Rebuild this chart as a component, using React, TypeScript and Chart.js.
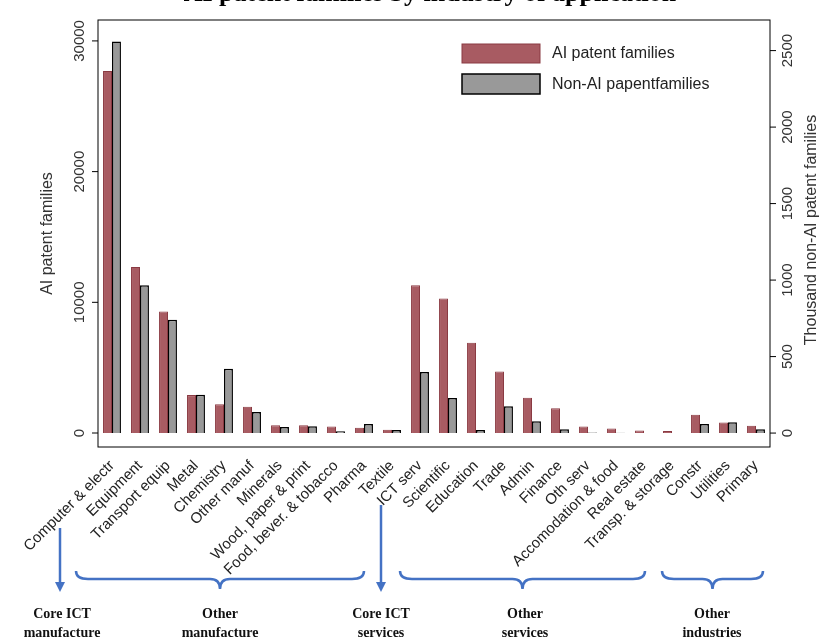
import React, { useEffect, useRef } from "react";
import { Chart, registerables } from "chart.js";
Chart.register(...registerables);

const categories = ["Computer & electr","Equipment","Transport equip","Metal","Chemistry","Other manuf","Minerals","Wood, paper & print","Food, bever. & tobacco","Pharma","Textile","ICT serv","Scientific","Education","Trade","Admin","Finance","Oth serv","Accomodation & food","Real estate","Transp. & storage","Constr","Utilities","Primary"];
const aiFamilies = [27700,12700,9300,2900,2200,2000,600,600,500,400,250,11300,10300,6900,4700,2700,1900,500,350,200,150,1400,800,550];
const nonAiFamilies = [2560,967,740,250,420,137,40,45,12,60,20,400,230,20,175,78,25,3,2,1,1,60,70,25];
const leftTicks = [0,10000,20000,30000];
const rightTicks = [0,500,1000,1500,2000,2500];

const deco = {
  id: "deco",
  afterDraw(chart: any) {
    const ctx = chart.ctx;
    const a = chart.chartArea;
    const yl = chart.scales.y, yr = chart.scales.y2;
    ctx.save();
    ctx.strokeStyle = "#000"; ctx.lineWidth = 1;
    ctx.strokeRect(a.left, a.top, a.right - a.left, a.bottom - a.top);
    ctx.fillStyle = "#000"; ctx.font = "bold 26px 'Liberation Serif'"; ctx.textAlign = "center"; ctx.textBaseline = "alphabetic";
    ctx.fillText("AI patent families by industry of application", 430, 1);
    ctx.font = "15px 'Liberation Sans'"; ctx.fillStyle = "#333";
    const tick = (x: number, y: number, s: string, dx: number) => {
      ctx.beginPath(); ctx.moveTo(x, y); ctx.lineTo(x + dx, y); ctx.stroke();
      ctx.save(); ctx.translate(x + dx * 1.8, y); ctx.rotate(-Math.PI / 2); ctx.textAlign = "center";
      ctx.textBaseline = dx < 0 ? "bottom" : "top"; ctx.fillText(s, 0, 0); ctx.restore();
    };
    leftTicks.forEach(v => tick(a.left, yl.getPixelForValue(v), String(v), -6));
    rightTicks.forEach(v => tick(a.right, yr.getPixelForValue(v), String(v), 6));
    ctx.font = "16px 'Liberation Sans'"; ctx.fillStyle = "#333";
    ctx.save(); ctx.translate(48, (a.top + a.bottom) / 2); ctx.rotate(-Math.PI / 2); ctx.textAlign = "center"; ctx.textBaseline = "middle"; ctx.fillText("AI patent families", 0, 0); ctx.restore();
    ctx.save(); ctx.translate(812, 230); ctx.rotate(-Math.PI / 2); ctx.textAlign = "center"; ctx.textBaseline = "middle"; ctx.fillText("Thousand non-AI patent families", 0, 0); ctx.restore();
    ctx.fillStyle = "#a85b62"; ctx.strokeStyle = "#8a3a42"; ctx.fillRect(462, 44, 78, 19); ctx.strokeRect(462, 44, 78, 19);
    ctx.fillStyle = "#999"; ctx.strokeStyle = "#000"; ctx.lineWidth = 1.5; ctx.fillRect(462, 74, 78, 20); ctx.strokeRect(462, 74, 78, 20);
    ctx.fillStyle = "#222"; ctx.font = "16px 'Liberation Sans'"; ctx.textAlign = "left"; ctx.textBaseline = "middle";
    ctx.fillText("AI patent families", 552, 54); ctx.fillText("Non-AI papentfamilies", 552, 85);
    ctx.strokeStyle = "#4472c4"; ctx.fillStyle = "#4472c4"; ctx.lineWidth = 2.5;
    const arrow = (x: number, y0: number, y1: number) => {
      ctx.beginPath(); ctx.moveTo(x, y0); ctx.lineTo(x, y1 - 8); ctx.stroke();
      ctx.beginPath(); ctx.moveTo(x - 5, y1 - 10); ctx.lineTo(x + 5, y1 - 10); ctx.lineTo(x, y1); ctx.closePath(); ctx.fill();
    };
    arrow(60, 528, 592); arrow(381, 505, 592);
    const brace = (x0: number, x1: number) => {
      const m = (x0 + x1) / 2, t = 571, h = 8;
      ctx.beginPath(); ctx.moveTo(x0, t);
      ctx.quadraticCurveTo(x0, t + h, x0 + 12, t + h);
      ctx.lineTo(m - 10, t + h); ctx.quadraticCurveTo(m, t + h, m, t + 2 * h + 2);
      ctx.quadraticCurveTo(m, t + h, m + 10, t + h);
      ctx.lineTo(x1 - 12, t + h); ctx.quadraticCurveTo(x1, t + h, x1, t); ctx.stroke();
    };
    brace(76, 364); brace(400, 645); brace(662, 763);
    ctx.fillStyle = "#111"; ctx.font = "bold 14px 'Liberation Serif'"; ctx.textAlign = "center"; ctx.textBaseline = "alphabetic";
    const lab = (x: number, a1: string, b: string) => { ctx.fillText(a1, x, 618); ctx.fillText(b, x, 637); };
    lab(62, "Core ICT", "manufacture"); lab(220, "Other", "manufacture"); lab(381, "Core ICT", "services");
    lab(525, "Other", "services"); lab(712, "Other", "industries");
    ctx.restore();
  },
};

export default function App() {
  const ref = useRef<HTMLCanvasElement>(null);
  useEffect(() => {
    document.body.style.margin = "0";
    const chart = new Chart(ref.current!, {
      type: "bar",
      data: {
        labels: categories,
        datasets: [
          { label: "AI patent families", data: aiFamilies, yAxisID: "y", backgroundColor: "#a85b62", borderColor: "#8a3a42", borderWidth: 1, barPercentage: 1, categoryPercentage: 0.64 },
          { label: "Non-AI papentfamilies", data: nonAiFamilies, yAxisID: "y2", backgroundColor: "#999", borderColor: "#000", borderWidth: 1.5, barPercentage: 1, categoryPercentage: 0.64 },
        ],
      },
      options: {
        animation: false, responsive: false,
        layout: { padding: { top: 20, left: 0, right: 0, bottom: 0 } },
        plugins: { legend: { display: false }, tooltip: { enabled: false } },
        scales: {
          x: {
            grid: { display: false }, border: { display: false },
            ticks: { autoSkip: false, minRotation: 45, maxRotation: 45, color: "#222", font: { family: "Liberation Sans", size: 15 }, padding: 2 },
            afterFit: (s: any) => { s.height = 193; },
          },
          y: {
            position: "left", min: -1070, max: 31600, grid: { display: false }, border: { display: false },
            ticks: { display: false }, afterFit: (s: any) => { s.width = 98; },
          },
          y2: {
            position: "right", min: -91, max: 2700, grid: { display: false }, border: { display: false },
            ticks: { display: false }, afterFit: (s: any) => { s.width = 61; },
          },
        },
      },
      plugins: [deco],
    } as any);
    return () => chart.destroy();
  }, []);
  return <canvas ref={ref} width={831} height={640} style={{ display: "block" }} />;
}
